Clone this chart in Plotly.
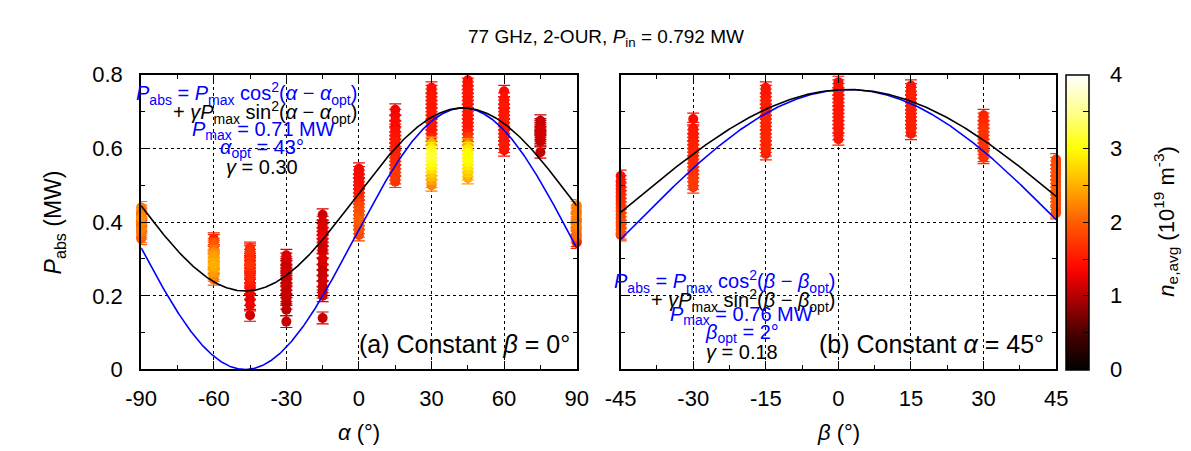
import numpy as np
import plotly.graph_objects as go
import plotly.colors as pc

W, H = 1191, 451

# ---------------- data: panel (a) constant beta = 0 deg ----------------
ALPHA = [-90, -60, -45, -30, -15, 0, 15, 30, 45, 60, 75, 90]
P_ALPHA = [
    [0.44, 0.43, 0.425, 0.42, 0.415, 0.41, 0.405, 0.40, 0.395, 0.39, 0.385, 0.38, 0.375, 0.37, 0.36, 0.355],
    [0.355, 0.35, 0.34, 0.335, 0.33, 0.32, 0.31, 0.305, 0.30, 0.295, 0.29, 0.285, 0.28, 0.275, 0.27, 0.26, 0.255, 0.245],
    [0.33, 0.325, 0.32, 0.31, 0.305, 0.30, 0.29, 0.285, 0.28, 0.27, 0.265, 0.26, 0.25, 0.245, 0.24, 0.23, 0.22, 0.205, 0.19, 0.175, 0.147],
    [0.31, 0.30, 0.29, 0.285, 0.28, 0.27, 0.265, 0.26, 0.25, 0.245, 0.24, 0.23, 0.22, 0.21, 0.20, 0.19, 0.18, 0.162, 0.13],
    [0.42, 0.40, 0.39, 0.38, 0.37, 0.36, 0.35, 0.34, 0.33, 0.32, 0.30, 0.285, 0.27, 0.255, 0.24, 0.225, 0.21, 0.20, 0.14],
    [0.545, 0.535, 0.525, 0.515, 0.505, 0.495, 0.485, 0.475, 0.465, 0.455, 0.445, 0.435, 0.425, 0.415, 0.405, 0.395, 0.385, 0.375, 0.365],
    [0.705, 0.69, 0.675, 0.66, 0.65, 0.64, 0.63, 0.62, 0.61, 0.60, 0.59, 0.58, 0.57, 0.56, 0.55, 0.54, 0.53, 0.52, 0.51],
    [0.765, 0.755, 0.745, 0.735, 0.725, 0.715, 0.705, 0.695, 0.685, 0.675, 0.665, 0.655, 0.645, 0.635, 0.625,
     0.615, 0.60, 0.59, 0.58, 0.57, 0.56, 0.55, 0.54, 0.53, 0.52, 0.51, 0.50],
    [0.785, 0.775, 0.765, 0.755, 0.745, 0.735, 0.725, 0.715, 0.705, 0.695, 0.685, 0.675, 0.665, 0.655, 0.645, 0.635, 0.625,
     0.61, 0.60, 0.59, 0.58, 0.57, 0.56, 0.55, 0.54, 0.53, 0.52],
    [0.755, 0.735, 0.725, 0.715, 0.705, 0.695, 0.685, 0.675, 0.665, 0.655, 0.645, 0.635, 0.625, 0.615, 0.605, 0.595],
    [0.675, 0.665, 0.66, 0.655, 0.65, 0.645, 0.64, 0.635, 0.63, 0.625, 0.62, 0.59],
    [0.445, 0.44, 0.43, 0.425, 0.42, 0.41, 0.405, 0.40, 0.39, 0.385, 0.38, 0.37, 0.365, 0.36, 0.35, 0.345],
]
NE_ALPHA = [
    [2.2, 2.1, 2.0, 1.8, 2.2, 2.3, 1.9, 2.1, 2.0, 1.8, 2.1, 2.2, 2.0, 2.1, 1.9, 2.0],
    [1.5, 1.6, 1.9, 2.0, 1.8, 2.2, 2.3, 2.4, 2.4, 2.3, 2.4, 2.5, 2.4, 2.3, 2.4, 2.3, 2.2, 2.0],
    [1.6, 1.5, 1.7, 1.5, 1.6, 1.4, 1.5, 1.7, 1.5, 1.6, 1.4, 1.5, 1.6, 1.5, 1.3, 1.5, 1.4, 1.2, 1.2, 1.3, 1.15],
    [1.2, 1.1, 1.05, 1.1, 1.0, 1.05, 1.15, 1.0, 1.1, 1.05, 1.0, 1.1, 1.05, 1.0, 1.1, 1.05, 1.0, 1.05, 1.1],
    [1.15, 1.1, 1.2, 1.1, 1.05, 1.3, 1.1, 1.15, 1.05, 1.1, 1.2, 1.1, 1.05, 1.1, 1.15, 1.05, 1.1, 1.2, 1.1],
    [1.3, 1.35, 1.4, 1.35, 1.4, 1.45, 1.4, 1.5, 1.6, 1.7, 1.8, 1.9, 1.85, 1.9, 2.0, 1.9, 1.85, 1.9, 1.8],
    [1.3, 1.35, 1.4, 1.35, 1.4, 1.45, 1.4, 1.5, 1.45, 1.5, 1.55, 1.5, 1.6, 1.65, 1.6, 1.7, 1.75, 1.6, 1.7],
    [1.4, 1.45, 1.4, 1.5, 1.45, 1.4, 1.5, 1.45, 1.4, 1.5, 1.45, 1.5, 1.4, 1.5, 1.6,
     2.5, 2.9, 3.1, 3.2, 3.1, 3.0, 2.9, 2.7, 2.6, 2.5, 2.3, 2.2],
    [1.4, 1.45, 1.4, 1.5, 1.45, 1.4, 1.5, 1.45, 1.4, 1.5, 1.45, 1.4, 1.5, 1.45, 1.5, 1.6, 1.8,
     2.4, 2.8, 2.9, 3.0, 3.0, 2.9, 2.8, 2.7, 2.6, 2.4],
    [1.4, 1.45, 1.4, 1.5, 1.45, 1.4, 1.5, 1.45, 1.4, 1.5, 1.45, 1.4, 1.5, 1.45, 1.5, 1.4],
    [1.1, 1.05, 1.1, 1.15, 1.1, 1.05, 1.1, 1.15, 1.1, 1.05, 1.1, 1.1],
    [2.1, 2.2, 2.0, 2.1, 2.2, 2.1, 2.0, 2.1, 2.2, 2.1, 2.0, 1.9, 2.1, 1.8, 1.6, 1.5],
]

# ---------------- data: panel (b) constant alpha = 45 deg ----------------
BETA = [-45, -30, -15, 0, 15, 30, 45]
P_BETA = [
    [0.525, 0.51, 0.50, 0.49, 0.48, 0.47, 0.46, 0.45, 0.44, 0.43, 0.42, 0.41, 0.40, 0.39, 0.38, 0.37, 0.365],
    [0.68, 0.655, 0.645, 0.635, 0.625, 0.615, 0.605, 0.595, 0.585, 0.575, 0.565, 0.555, 0.545, 0.535, 0.525, 0.515, 0.505, 0.495],
    [0.765, 0.755, 0.745, 0.735, 0.725, 0.715, 0.705, 0.695, 0.685, 0.675, 0.665, 0.655, 0.645, 0.635, 0.625, 0.615, 0.605, 0.595, 0.585],
    [0.78, 0.77, 0.76, 0.75, 0.74, 0.73, 0.72, 0.71, 0.70, 0.69, 0.68, 0.67, 0.66, 0.65, 0.64, 0.625],
    [0.77, 0.76, 0.75, 0.74, 0.73, 0.72, 0.71, 0.70, 0.69, 0.68, 0.67, 0.66, 0.65, 0.64],
    [0.69, 0.68, 0.67, 0.66, 0.65, 0.64, 0.63, 0.62, 0.61, 0.60, 0.59, 0.58, 0.575],
    [0.57, 0.56, 0.55, 0.54, 0.53, 0.52, 0.51, 0.50, 0.49, 0.48, 0.47, 0.46, 0.45, 0.44, 0.43, 0.425],
]
NE_BETA = [
    [1.4, 1.45, 1.5, 1.5, 1.55, 1.6, 1.6, 1.65, 1.7, 1.75, 1.8, 1.8, 1.85, 1.8, 1.9, 1.85, 1.8],
    [1.4, 1.45, 1.5, 1.45, 1.5, 1.55, 1.5, 1.55, 1.6, 1.55, 1.6, 1.65, 1.6, 1.65, 1.7, 1.7, 1.75, 1.7],
    [1.45, 1.5, 1.45, 1.5, 1.55, 1.5, 1.45, 1.5, 1.55, 1.6, 1.5, 1.55, 1.6, 1.55, 1.6, 1.55, 1.6, 1.6, 1.55],
    [1.4, 1.45, 1.4, 1.5, 1.45, 1.4, 1.5, 1.45, 1.4, 1.5, 1.45, 1.5, 1.45, 1.5, 1.45, 1.5],
    [1.45, 1.5, 1.55, 1.5, 1.45, 1.5, 1.55, 1.5, 1.55, 1.5, 1.55, 1.5, 1.55, 1.5],
    [1.55, 1.6, 1.65, 1.6, 1.7, 1.65, 1.6, 1.65, 1.7, 1.65, 1.7, 1.7, 1.65],
    [1.8, 1.85, 1.8, 1.9, 1.85, 1.9, 1.85, 1.9, 1.95, 1.9, 1.85, 1.9, 1.95, 1.9, 1.9, 1.85],
]

P_ERR = 0.016                      # MW, measurement uncertainty
FIT_A = dict(pmax=0.71, opt=43.0, gamma=0.30)
FIT_B = dict(pmax=0.76, opt=2.0, gamma=0.18)
NE_MIN, NE_MAX = 0.0, 4.0
ALPHA_TICKS = [-90, -60, -30, 0, 30, 60, 90]
BETA_TICKS = [-45, -30, -15, 0, 15, 30, 45]
P_TICKS = [0, 0.2, 0.4, 0.6, 0.8]

# ---------------- styling ----------------
FONT = "Liberation Sans, Arial, Helvetica, sans-serif"
HOT = [
    [0.0, "#000000"], [0.125, "#4a0000"], [0.25, "#b40000"], [0.3125, "#e80000"],
    [0.35, "#ff0800"], [0.5, "#ff5c00"], [0.625, "#ffb000"], [0.75, "#ffff00"],
    [0.875, "#ffff90"], [1.0, "#ffffff"],
]


def px(x):
    return x / W


def py(y):
    return 1 - y / H


fig = go.Figure()


def add_points(angles, pvals, nevals, xa, ya):
    groups = {}
    for ang, ps, ns in zip(angles, pvals, nevals):
        for p, n in zip(ps, ns):
            groups.setdefault(n, ([], []))
            groups[n][0].append(ang)
            groups[n][1].append(p)
    for n in sorted(groups):
        xs, ys = groups[n]
        col = pc.sample_colorscale(HOT, [(n - NE_MIN) / (NE_MAX - NE_MIN)])[0]
        fig.add_trace(go.Scatter(
            x=xs, y=ys, mode="markers", xaxis=xa, yaxis=ya, showlegend=False,
            cliponaxis=False,
            marker=dict(size=10, color=col, line=dict(width=0)),
            error_y=dict(type="data", array=[P_ERR] * len(ys), color=col,
                         thickness=1.2, width=6),
        ))


def add_fit(fit, lo, hi, xa, ya):
    xs = np.linspace(lo, hi, 721)
    d = np.radians(xs - fit["opt"])
    blue = fit["pmax"] * np.cos(d) ** 2
    black = blue + fit["gamma"] * fit["pmax"] * np.sin(d) ** 2
    fig.add_trace(go.Scatter(x=xs, y=blue, mode="lines", xaxis=xa, yaxis=ya,
                             line=dict(color="#0000ff", width=1.6), showlegend=False))
    fig.add_trace(go.Scatter(x=xs, y=black, mode="lines", xaxis=xa, yaxis=ya,
                             line=dict(color="#000000", width=1.6), showlegend=False))


add_points(ALPHA, P_ALPHA, NE_ALPHA, "x", "y")
add_points(BETA, P_BETA, NE_BETA, "x2", "y2")
add_fit(FIT_A, -90, 90, "x", "y")
add_fit(FIT_B, -45, 45, "x2", "y2")

# colorbar carrier
fig.add_trace(go.Scatter(
    x=[None], y=[None], mode="markers", showlegend=False, xaxis="x", yaxis="y",
    marker=dict(color=[0], colorscale=HOT, cmin=NE_MIN, cmax=NE_MAX, showscale=True,
                colorbar=dict(
                    x=px(1067), xanchor="left", xpad=0, y=py(214), yanchor="middle", ypad=0,
                    thickness=23, thicknessmode="pixels",
                    len=312 / H, lenmode="fraction",
                    outlinewidth=1.5, outlinecolor="black",
                    tickvals=[0, 0.5, 1, 1.5, 2, 2.5, 3, 3.5, 4],
                    ticks="inside", ticklen=6, tickcolor="black",
                    showticklabels=False,
                )),
))

axis_common = dict(
    showline=True, linewidth=2, linecolor="black", mirror="allticks",
    ticks="inside", ticklen=8, tickwidth=1, tickcolor="black",
    showgrid=True, gridcolor="black", griddash="dot", gridwidth=1,
    zeroline=False, tickfont=dict(family=FONT, size=22, color="black"),
)

y_dom = [py(370), py(58)]
fig.update_layout(
    width=W, height=H, margin=dict(l=0, r=0, t=0, b=0),
    paper_bgcolor="white", plot_bgcolor="white",
    font=dict(family=FONT, color="black"),
    xaxis=dict(domain=[px(120), px(566)], range=[-90, 90], tickvals=ALPHA_TICKS,
               ticktext=[str(v) for v in ALPHA_TICKS], anchor="y", ticklabelstandoff=8,
               minor=dict(dtick=15, tick0=0, ticks="inside", ticklen=4, tickcolor="black", showgrid=False),
               **axis_common),
    yaxis=dict(domain=y_dom, range=[0, 0.8], tickvals=P_TICKS,
               ticktext=["0", "0.2", "0.4", "0.6", "0.8"], anchor="x", ticklabelstandoff=12,
               minor=dict(dtick=0.1, tick0=0, ticks="inside", ticklen=4, tickcolor="black", showgrid=False),
               **axis_common),
    xaxis2=dict(domain=[px(611), px(1057)], range=[-45, 45], tickvals=BETA_TICKS,
                ticktext=[str(v) for v in BETA_TICKS], anchor="y2", ticklabelstandoff=8,
                minor=dict(dtick=7.5, tick0=0, ticks="inside", ticklen=4, tickcolor="black", showgrid=False),
                **axis_common),
    yaxis2=dict(domain=y_dom, range=[0, 0.8], tickvals=P_TICKS,
                showticklabels=False, anchor="x2",
                minor=dict(dtick=0.1, tick0=0, ticks="inside", ticklen=4, tickcolor="black", showgrid=False),
                **axis_common),
)

ann = []


def text(x, y, s, size=20, color="black", xanchor="center", yanchor="middle", angle=0):
    ann.append(dict(x=px(x), y=py(y), xref="paper", yref="paper", text=s, showarrow=False,
                    xanchor=xanchor, yanchor=yanchor, textangle=angle,
                    font=dict(family=FONT, size=size, color=color)))


BLUE = "#0000ff"
# title
text(596, 19, "77 GHz, 2-OUR, <i>P</i><sub>in</sub> = 0.792 MW", size=19)
# axis titles
text(31, 214, "<i>P</i><sub>abs</sub> (MW)", size=23, angle=-90)
text(343, 437, "<i>α</i> (°)", size=22)
text(834, 437, "<i>β</i> (°)", size=22)
text(1169, 214, "<i>n</i><sub>e,avg</sub> (10<sup>19</sup> m<sup>-3</sup>)", size=22, angle=-90)
# colorbar labels
for v in range(0, 5):
    text(1118, 370 - v * 78, str(v), size=22)

# panel (a) fit text
text(343, 78, "<i>P</i><sub>abs</sub> = <i>P</i><sub>max</sub> cos<sup>2</sup>(<i>α</i> − <i>α</i><sub>opt</sub>)",
     color=BLUE, xanchor="right")
text(343, 98, "+ <i>γP</i><sub>max</sub> sin<sup>2</sup>(<i>α</i> − <i>α</i><sub>opt</sub>)", xanchor="right")
text(245, 117, "<i>P</i><sub>max</sub> = %.2f MW" % FIT_A["pmax"], color=BLUE)
text(244, 136, "<i>α</i><sub>opt</sub> = %d°" % FIT_A["opt"], color=BLUE)
text(244, 156, "<i>γ</i> = %.2f" % FIT_A["gamma"])
text(561, 343, "(a) Constant <i>β</i> = 0°", size=25, xanchor="right")

# panel (b) fit text
text(833, 277, "<i>P</i><sub>abs</sub> = <i>P</i><sub>max</sub> cos<sup>2</sup>(<i>β</i> − <i>β</i><sub>opt</sub>)",
     color=BLUE, xanchor="right")
text(833, 297, "+ <i>γP</i><sub>max</sub> sin<sup>2</sup>(<i>β</i> − <i>β</i><sub>opt</sub>)", xanchor="right")
text(735, 313, "<i>P</i><sub>max</sub> = %.2f MW" % FIT_B["pmax"], color=BLUE)
text(735, 332, "<i>β</i><sub>opt</sub> = %d°" % FIT_B["opt"], color=BLUE)
text(735, 352, "<i>γ</i> = %.2f" % FIT_B["gamma"])
text(1047, 343, "(b) Constant <i>α</i> = 45°", size=25, xanchor="right")

fig.update_layout(annotations=ann)
fig.write_html("out.html")
